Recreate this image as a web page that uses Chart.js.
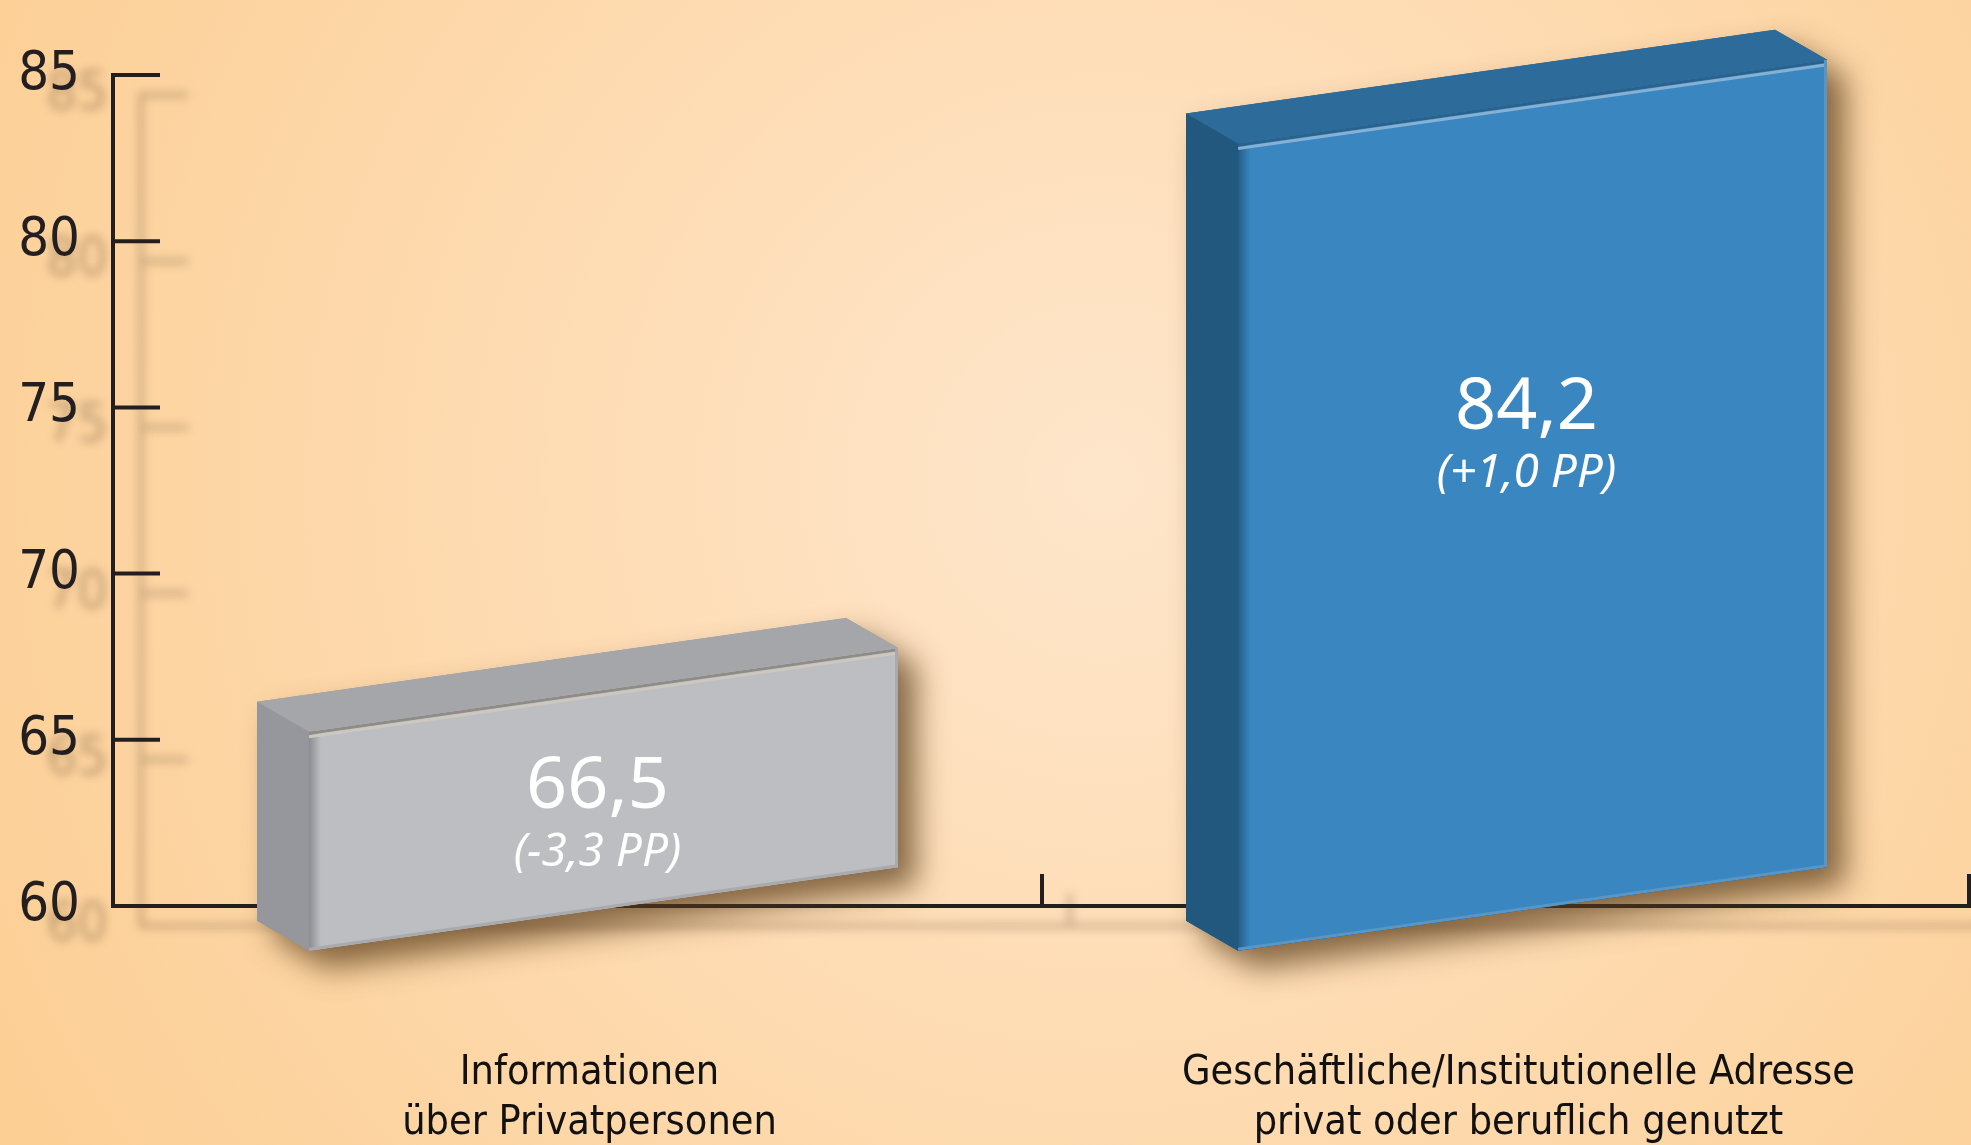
<!DOCTYPE html>
<html lang="de">
<head>
<meta charset="utf-8">
<title>Informationen über Privatpersonen / Geschäftliche Adresse</title>
<script src="https://cdn.jsdelivr.net/npm/chart.js@4.4.1/dist/chart.umd.min.js"></script>
<style>
    html, body { margin: 0; padding: 0; overflow: hidden; background: #fdd8a6; }
    #wrap { width: 1971px; height: 1145px; position: relative; }
</style>
</head>
<body>
<div id="wrap"><canvas id="chart" width="1971" height="1145"></canvas></div>
<script>
// Daten
const kategorien = [
    ['Informationen', 'über Privatpersonen'],
    ['Geschäftliche/Institutionelle Adresse', 'privat oder beruflich genutzt']
];
const werte = [66.5, 84.2];
const veraenderung = ['-3,3 PP', '+1,0 PP'];
const yTicks = [60, 65, 70, 75, 80, 85];

// Farben der Quader: Vorderseite, Deckel, Seite, Kanten
const quaderFarben = [
    { front: '#bdbec2', oben: '#a5a6aa', seite: '#96979c', kante: '#cdc7bf', kanteDunkel: '#8f8b86', links: '#8c8d92', unten: '#a9aaae' },
    { front: '#3986c0', oben: '#2d6c9a', seite: '#22577e', kante: '#86b0d4', kanteDunkel: '#2a628c', links: '#255c86', unten: '#5b95c4' }
];

const ACHSE = '#231f20';
const SCHRIFT = '"DejaVu Sans Condensed", "DejaVu Sans", sans-serif';
const NEIGUNG = -0.142;          // Schräge der Vorderkanten
const TIEFE = { x: -52, y: -30 }; // Versatz der Rückseite

function formatWert(v) {
    return v.toFixed(1).replace('.', ',');
}

// ==========================================
// Hintergrund und Achsen
// ==========================================
const pluginHintergrund = {
    id: 'hintergrund',
    beforeDraw(chart) {
        const { ctx, width, height } = chart;
        const cx = width * 0.56, cy = height * 0.42;
        const g = ctx.createRadialGradient(cx, cy, 0, cx, cy, 1250);
        g.addColorStop(0, '#fee6cb');
        g.addColorStop(0.4, '#feddb6');
        g.addColorStop(1, '#fccf95');
        ctx.save();
        ctx.fillStyle = g;
        ctx.fillRect(0, 0, width, height);

        // weicher Schatten des Achsenkreuzes
        ctx.filter = 'blur(5px)';
        zeichneAchsen(chart, 'rgba(112, 86, 60, 0.45)', 28, 20, true);
        ctx.restore();
    },
    beforeDatasetsDraw(chart) {
        chart.ctx.save();
        zeichneAchsen(chart, ACHSE, 0, 0, false);
        chart.ctx.restore();
    }
};

function zeichneAchsen(chart, farbe, dx, dy, mitBeschriftung) {
    const { ctx, chartArea: a, scales: { x, y } } = chart;
    ctx.save();
    ctx.translate(dx, dy);
    ctx.strokeStyle = farbe;
    ctx.lineWidth = 4;
    ctx.beginPath();
    const yOben = y.getPixelForValue(yTicks[yTicks.length - 1]);
    ctx.moveTo(a.left, yOben - 2);
    ctx.lineTo(a.left, a.bottom + 2);
    yTicks.forEach(v => {
        const py = y.getPixelForValue(v);
        ctx.moveTo(a.left, py);
        ctx.lineTo(a.left + 47, py);
    });
    ctx.moveTo(a.left, a.bottom);
    ctx.lineTo(a.right, a.bottom);
    // Teilstriche zwischen den Kategorien
    for (let i = 1; i <= kategorien.length; i++) {
        const px = Math.min(x.getPixelForValue(i - 0.5), a.right - 2);
        ctx.moveTo(px, a.bottom);
        ctx.lineTo(px, a.bottom - 32);
    }
    ctx.stroke();

    if (mitBeschriftung) {
        ctx.fillStyle = farbe;
        ctx.font = '54px ' + SCHRIFT;
        ctx.textAlign = 'right';
        ctx.textBaseline = 'middle';
        yTicks.forEach(v => ctx.fillText(String(v), a.left - 33, y.getPixelForValue(v)));
    }
    ctx.restore();
}

// ==========================================
// 3D-Quader
// ==========================================
const pluginQuader = {
    id: 'quader',
    afterDatasetsDraw(chart) {
        const meta = chart.getDatasetMeta(0);
        const basis = chart.scales.y.getPixelForValue(yTicks[0]);
        meta.data.forEach((el, i) => {
            const p = el.getProps(['x', 'y', 'width'], true);
            p.base = basis;
            zeichneQuader(chart.ctx, p, quaderFarben[i], i);
        });
    }
};

function zeichneQuader(ctx, p, f, i) {
    const links = p.x - p.width / 2;
    const rechts = p.x + p.width / 2;
    const fl = links - TIEFE.x;         // linke Kante der Vorderseite
    const fx = (fl + rechts) / 2;
    const oben = xx => p.y + NEIGUNG * (xx - fx);
    const unten = xx => p.base + 3 + NEIGUNG * (xx - fx);

    const FTL = [fl, oben(fl)], FTR = [rechts, oben(rechts)];
    const FBL = [fl, unten(fl)], FBR = [rechts, unten(rechts)];
    const d = pt => [pt[0] + TIEFE.x, pt[1] + TIEFE.y];
    const BTL = d(FTL), BTR = d(FTR), BBL = d(FBL);

    const poly = pts => {
        ctx.beginPath();
        ctx.moveTo(pts[0][0], pts[0][1]);
        pts.slice(1).forEach(q => ctx.lineTo(q[0], q[1]));
        ctx.closePath();
    };

    ctx.save();
    // Schlagschatten
    ctx.shadowColor = 'rgba(88, 58, 24, 0.72)';
    ctx.shadowBlur = 30;
    ctx.shadowOffsetX = 18;
    ctx.shadowOffsetY = 18;
    ctx.fillStyle = f.seite;
    poly([BTL, BTR, FTR, FBR, FBL, BBL]);
    ctx.fill();
    ctx.restore();

    ctx.save();
    // Seite
    ctx.fillStyle = f.seite;
    poly([BTL, FTL, FBL, BBL]);
    ctx.fill();
    // Deckel
    ctx.fillStyle = f.oben;
    poly([BTL, BTR, FTR, FTL]);
    ctx.fill();
    // Vorderseite
    ctx.fillStyle = f.front;
    poly([FTL, FTR, FBR, FBL]);
    ctx.fill();

    ctx.save();
    poly([FTL, FTR, FBR, FBL]);
    ctx.clip();
    // linke Abschrägung
    const gl = ctx.createLinearGradient(fl, 0, fl + 12, 0);
    gl.addColorStop(0, f.links);
    gl.addColorStop(1, f.front);
    ctx.fillStyle = gl;
    ctx.fillRect(fl, Math.min(FTR[1], FTL[1]) - 5, 12, FBL[1] - FTR[1] + 10);
    // obere Kante
    ctx.lineWidth = 3;
    ctx.strokeStyle = f.kanteDunkel;
    ctx.beginPath();
    ctx.moveTo(fl, FTL[1] + 1.5); ctx.lineTo(rechts, FTR[1] + 1.5);
    ctx.stroke();
    ctx.lineWidth = 3;
    ctx.strokeStyle = f.kante;
    ctx.beginPath();
    ctx.moveTo(fl, FTL[1] + 5); ctx.lineTo(rechts, FTR[1] + 5);
    ctx.stroke();
    // untere und rechte Kante
    ctx.lineWidth = 3;
    ctx.strokeStyle = f.unten;
    ctx.beginPath();
    ctx.moveTo(fl, FBL[1] - 1.5); ctx.lineTo(rechts, FBR[1] - 1.5);
    ctx.moveTo(rechts - 1.5, FTR[1]); ctx.lineTo(rechts - 1.5, FBR[1]);
    ctx.stroke();
    ctx.restore();

    // Beschriftung
    const mitte = (p.y + p.base + 3) / 2;
    const yZahl = Math.min(mitte + 9, p.y + 327);
    ctx.fillStyle = '#ffffff';
    ctx.textAlign = 'center';
    ctx.textBaseline = 'alphabetic';
    ctx.font = '72px "Noto Sans", sans-serif';
    ctx.fillText(formatWert(werte[i]), fx - 6, yZahl);
    ctx.font = 'italic 46px "Noto Sans", sans-serif';
    ctx.fillText('(' + veraenderung[i] + ')', fx - 6, yZahl + 58);
    ctx.restore();
}

// ==========================================
// Diagramm
// ==========================================
const ctx = document.getElementById('chart');

new Chart(ctx, {
    type: 'bar',
    data: {
        labels: kategorien,
        datasets: [{
            data: werte,
            base: yTicks[0],
            backgroundColor: 'rgba(0, 0, 0, 0)',
            borderWidth: 0,
            barPercentage: 0.69,
            categoryPercentage: 1
        }]
    },
    options: {
        responsive: false,
        devicePixelRatio: 1,
        animation: false,
        layout: { padding: { top: 75, right: 0, bottom: 0, left: 0 } },
        plugins: {
            legend: { display: false },
            tooltip: { enabled: false }
        },
        scales: {
            x: {
                offset: true,
                grid: { display: false, drawTicks: false },
                border: { display: false },
                ticks: {
                    color: '#111111',
                    font: { family: SCHRIFT, size: 41, lineHeight: 1.22 },
                    padding: 142,
                    labelOffset: 12,
                    maxRotation: 0,
                    autoSkip: false
                },
                afterFit(scale) {
                    scale.height = 239;
                    scale.paddingLeft = 0;
                    scale.paddingRight = 0;
                }
            },
            y: {
                min: 60,
                max: 85,
                afterBuildTicks(scale) { scale.ticks = yTicks.map(v => ({ value: v })); },
                grid: { display: false, drawTicks: false },
                border: { display: false },
                ticks: {
                    color: ACHSE,
                    font: { family: SCHRIFT, size: 54 },
                    padding: 33
                },
                afterFit(scale) { scale.width = 113; }
            }
        }
    },
    plugins: [pluginHintergrund, pluginQuader]
});
</script>
</body>
</html>
